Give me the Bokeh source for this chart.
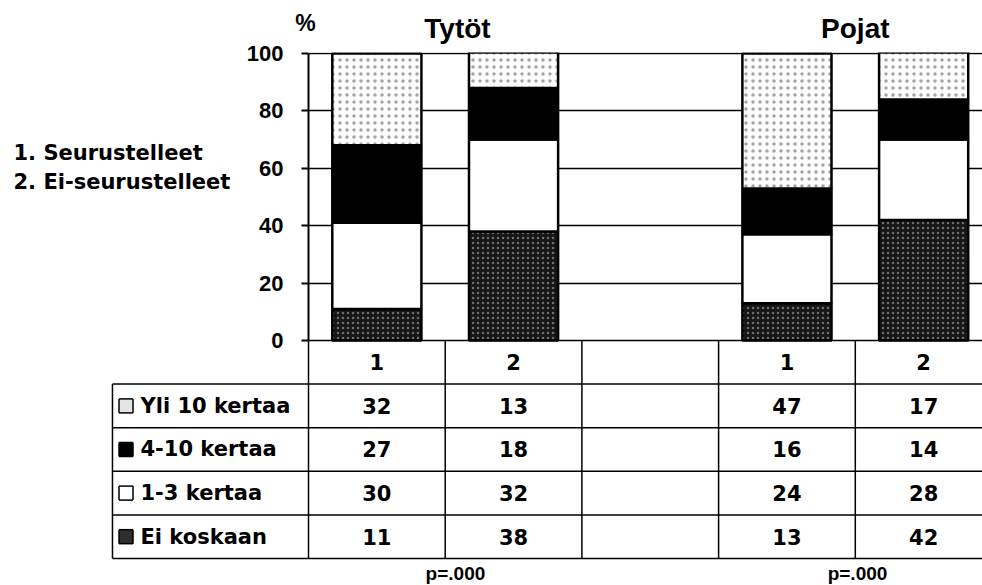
from bokeh.plotting import figure
from bokeh.models import ColumnDataSource, Range1d, FixedTicker
from bokeh.transform import stack
from bokeh.embed import file_html
from bokeh.resources import INLINE
from bokeh.core.properties import value

# ---- data ----
group_titles = ["Tytöt", "Pojat"]
col_labels = ["1", "2", "", "1", "2"]
series_names = ["Yli 10 kertaa", "4-10 kertaa", "1-3 kertaa", "Ei koskaan"]
yli10 = [32, 13, None, 47, 17]
k4_10 = [27, 18, None, 16, 14]
k1_3 = [30, 32, None, 24, 28]
ei_koskaan = [11, 38, None, 13, 42]
y_ticks = [0, 20, 40, 60, 80, 100]
p_texts = ["p=.000", "p=.000"]
key_lines = ["1. Seurustelleet", "2. Ei-seurustelleet"]

# ---- styles ----
FONT = "Liberation Sans"
TFONT = "DejaVu Sans"
fills = {"yli": "#fcfcfc", "k410": "#000000", "k13": "#ffffff", "ei": "#161616"}
swatch_fills = {"yli": "#e4e4e4", "k410": "#000000", "k13": "#ffffff", "ei": "#2e2e2e"}
hatch = {"yli": ("dot", "#a4a4a4", 7), "ei": ("dot", "#6e6e6e", 5)}

PX_X = 136.7      # px per x unit
PX_Y = 2.87       # px per y unit
X_END = 674 / PX_X
Y1 = 100.35
Y0 = Y1 - 533 / PX_Y
RH = 15.19        # table row height (data units)
LEFT_X = -1.434   # left border of label column

p = figure(width=982, height=585, x_range=Range1d(0, X_END), y_range=Range1d(Y0, Y1),
           output_backend="svg", toolbar_location=None, x_axis_location=None,
           min_border_left=308, min_border_right=0, min_border_top=52, min_border_bottom=0,
           outline_line_color=None, background_fill_color="white")

# axis
p.yaxis.ticker = FixedTicker(ticks=y_ticks)
p.yaxis.bounds = (0, 100)
p.yaxis.axis_line_width = 2
p.yaxis.axis_line_color = "black"
p.yaxis.major_tick_out = 7
p.yaxis.major_tick_in = 0
p.yaxis.major_tick_line_width = 2
p.yaxis.minor_tick_out = 0
p.yaxis.minor_tick_in = 0
p.yaxis.major_label_text_font = FONT
p.yaxis.major_label_text_font_style = "bold"
p.yaxis.major_label_text_font_size = "22px"
p.yaxis.major_label_text_color = "black"
p.yaxis.major_label_standoff = 18
p.xgrid.visible = False
p.ygrid.grid_line_color = "black"
p.ygrid.grid_line_width = 1.5

# bars
idx = [i for i, v in enumerate(yli10) if v is not None]
src = ColumnDataSource(dict(
    x=[i + 0.5 for i in idx],
    ei=[ei_koskaan[i] for i in idx],
    k13=[k1_3[i] for i in idx],
    k410=[k4_10[i] for i in idx],
    yli=[yli10[i] for i in idx],
))
order = ["ei", "k13", "k410", "yli"]
for j, key in enumerate(order):
    kw = {}
    if key in hatch:
        hp, hc, hs = hatch[key]
        kw = dict(hatch_pattern=hp, hatch_color=hc, hatch_scale=hs, hatch_weight=1)
    p.vbar(x="x", width=0.652, bottom=stack(*order[:j]) if j else 0, top=stack(*order[:j + 1]),
           source=src, fill_color=fills[key], line_color="black", line_width=2.5, **kw)

# table grid lines
hx0, hx1, hy = [], [], []
for k in range(1, 6):
    hx0.append(LEFT_X); hx1.append(X_END); hy.append(-k * RH)
p.segment(x0=hx0, x1=hx1, y0=hy, y1=hy, line_color="black", line_width=1.5, level="overlay")
vx, vy0, vy1 = [], [], []
for c in range(len(col_labels)):
    vx.append(c); vy0.append(0); vy1.append(-5 * RH)
vx.append(LEFT_X); vy0.append(-RH); vy1.append(-5 * RH)
p.segment(x0=vx, x1=vx, y0=vy0, y1=vy1, line_color="black", line_width=1.5, level="overlay")

# table texts
tx, ty, tt = [], [], []
for c, lab in enumerate(col_labels):
    if lab:
        tx.append(c + 0.5); ty.append(-0.5 * RH); tt.append(lab)
rows = [yli10, k4_10, k1_3, ei_koskaan]
for r, vals in enumerate(rows):
    for c, v in enumerate(vals):
        if v is not None:
            tx.append(c + 0.5); ty.append(-(r + 1.5) * RH); tt.append(str(v))
p.text(x=tx, y=ty, text=tt, text_font=value(TFONT), text_font_style="bold",
       text_font_size="21px", text_align="center", text_baseline="middle", text_color="black",
       level="overlay")

# row labels + swatches
ry = [-(r + 1.5) * RH for r in range(len(series_names))]
p.text(x=[-1.229] * 4, y=ry, text=series_names, text_font=value(TFONT), text_font_style="bold",
       text_font_size="21px", text_align="left", text_baseline="middle", text_color="black",
       level="overlay")
skeys = ["yli", "k410", "k13", "ei"]
SW_X = -1.335
hw, hh = 7.0 / PX_X, 7.0 / PX_Y
# swatch fills (thick segments)
p.segment(x0=[SW_X] * 4, x1=[SW_X] * 4, y0=[y - hh for y in ry], y1=[y + hh for y in ry],
          line_color=[swatch_fills[k] for k in skeys], line_width=14, line_cap="butt",
          level="overlay")
# swatch outlines
ox0, ox1, oy0, oy1 = [], [], [], []
for y in ry:
    l, r_, b, t = SW_X - hw, SW_X + hw, y - hh, y + hh
    ox0 += [l, r_, l, l]; ox1 += [r_, r_, r_, l]
    oy0 += [t, t, b, b]; oy1 += [t, b, b, t]
p.segment(x0=ox0, x1=ox1, y0=oy0, y1=oy1, line_color="black", line_width=1.5, level="overlay")

# titles & annotations (unclipped text glyphs)
p.text(x=[1.09, 4.0], y=[108.7, 108.7], text=group_titles, text_font=value(FONT),
       text_font_style="bold", text_font_size="28px", text_align="center",
       text_baseline="middle", text_color="black", level="overlay")
p.text(x=[-0.022], y=[110.8], text=["%"], text_font=value(FONT), text_font_style="bold",
       text_font_size="23px", text_align="center", text_baseline="middle", text_color="black",
       level="overlay")
p.text(x=[1.075, 4.016], y=[-81.3, -81.3], text=p_texts, text_font=value(FONT),
       text_font_style="bold", text_font_size="19px", text_align="center",
       text_baseline="middle", text_color="black", level="overlay")
p.text(x=[-2.158, -2.158], y=[65.5, 55.4], text=key_lines, text_font=value(TFONT),
       text_font_style="bold", text_font_size="21px", text_align="left",
       text_baseline="middle", text_color="black", level="overlay")

open("out.html", "w").write(file_html(p, INLINE))
